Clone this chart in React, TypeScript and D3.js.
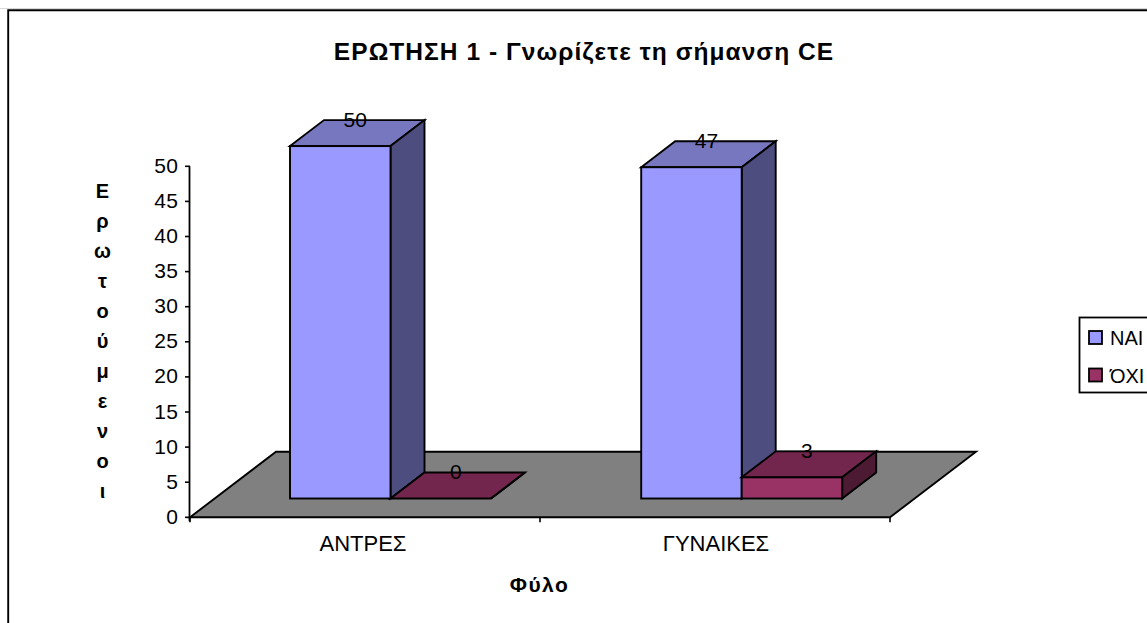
import * as d3 from "d3";

const categories = ["ΑΝΤΡΕΣ", "ΓΥΝΑΙΚΕΣ"];
const seriesNames = ["ΝΑΙ", "ΌΧΙ"];
const naiValues = [50, 47];
const oxiValues = [0, 3];
const yTicks = [0, 5, 10, 15, 20, 25, 30, 35, 40, 45, 50];
const titleText = "ΕΡΩΤΗΣΗ 1 - Γνωρίζετε τη σήμανση CE";
const xTitle = "Φύλο";
const yTitleLetters = ["Ε", "ρ", "ω", "τ", "ο", "ύ", "μ", "ε", "ν", "ο", "ι"];

const W = 1147, H = 623;
const FONT = "'Liberation Sans', Arial, sans-serif";
const x0 = 190, x1 = 890, yBase = 517.3, yTop = 166.3;
const floorD = [86, -65.5];
const barOff = [25.5, -18.8];
const barD = [34, -26];
const groupNudge = [0, 1.2];
const catNudge = [-2, 1];

const colors = [
  { front: "#9999FF", top: "#7777BF", side: "#4D4D80" },
  { front: "#993366", top: "#73264D", side: "#4D1A33" },
];

const yAxis = d3.scaleLinear().domain([0, 50]).range([yBase, yTop]);
const xCat = d3.scaleBand().domain(categories).range([x0, x1]);
const xSer = d3.scaleBand().domain(seriesNames).range([0, 201]);
const heightOf = (v: number) => (yBase - yAxis(v)) * 1.004;

const pts = (a: number[][]) => a.map((p) => p.join(",")).join(" ");

const barLeft = (cat: string, ser: string, ci: number) =>
  xCat(cat)! + (xCat.bandwidth() - 201) / 2 + barOff[0] + xSer(ser)! + groupNudge[ci];

function Bar({ cat, ser, v, ci, si }: any) {
  const w = xSer.bandwidth();
  const left = barLeft(cat, ser, ci);
  const right = left + w;
  const bot = yBase + barOff[1];
  const top = bot - heightOf(v);
  const c = colors[si];
  const [dx, dy] = barD;
  return (
    <g stroke="#000" strokeWidth={1.9} strokeLinejoin="miter">
      <polygon fill={c.top} points={pts([[left, top], [right, top], [right + dx, top + dy], [left + dx, top + dy]])} />
      <polygon fill={c.side} points={pts([[right, top], [right + dx, top + dy], [right + dx, bot + dy], [right, bot]])} />
      <rect x={left} y={top} width={w} height={bot - top} fill={c.front} />
    </g>
  );
}

function Label({ cat, ser, v, ci }: any) {
  const w = xSer.bandwidth();
  const left = barLeft(cat, ser, ci);
  const top = yBase + barOff[1] - heightOf(v);
  return (
    <text x={left + w / 2 + 15} y={top + barD[1] + 6.5} textAnchor="middle" fontSize={21} fill="#000">
      {v}
    </text>
  );
}

export default function App() {
  const tickLen = 5;
  return (
    <svg
      width={W}
      height={H}
      viewBox={`0 0 ${W} ${H}`}
      style={{ position: "absolute", left: 0, top: 0, background: "#fff" }}
      fontFamily={FONT}
    >
      {/* chart frame */}
      <line x1={0} x2={W} y1={8.5} y2={8.5} stroke="#d8d8d8" strokeWidth={1} />
      <path d={`M8.2 ${H} V10.3 H${W}`} fill="none" stroke="#000" strokeWidth={1.9} />

      <text x={584} y={60} textAnchor="middle" fontSize={24.5} fontWeight="bold" letterSpacing={1.05}>{titleText}</text>

      {/* floor */}
      <polygon
        fill="#808080"
        stroke="#000"
        strokeWidth={1.9}
        points={pts([[x0, yBase], [x1, yBase], [x1 + floorD[0], yBase + floorD[1]], [x0 + floorD[0], yBase + floorD[1]]])}
      />

      {/* y axis */}
      <line x1={x0 - 0.5} x2={x0 - 0.5} y1={yTop} y2={yBase + 4} stroke="#000" strokeWidth={1.8} />
      {yTicks.map((t) => (
        <g key={t}>
          <line x1={x0 - tickLen} x2={x0} y1={yAxis(t)} y2={yAxis(t)} stroke="#000" strokeWidth={1.6} />
          <text x={178.5} y={yAxis(t) + 6.5} textAnchor="end" fontSize={21} letterSpacing={0.5}>{t}</text>
        </g>
      ))}

      {/* x axis */}
      {[x0, x0 + xCat.bandwidth(), x1].map((x) => (
        <line key={x} x1={x} x2={x} y1={yBase} y2={yBase + tickLen} stroke="#000" strokeWidth={1.6} />
      ))}
      {categories.map((c, i) => (
        <text key={c} x={xCat(c)! + xCat.bandwidth() / 2 + catNudge[i]} y={550.5} textAnchor="middle" fontSize={22}>{c}</text>
      ))}
      <text x={539.5} y={591.5} textAnchor="middle" fontSize={21} fontWeight="bold" letterSpacing={1.5}>{xTitle}</text>

      {/* y title */}
      {yTitleLetters.map((l, i) => (
        <text key={i} x={102.5} y={198 + i * 30} textAnchor="middle" fontSize={20} fontWeight="bold">{l}</text>
      ))}

      {/* bars: the ΌΧΙ box sits in front of the ΝΑΙ side face */}
      {categories.map((c, ci) => (
        <g key={c}>
          <Bar cat={c} ser={seriesNames[0]} v={naiValues[ci]} ci={ci} si={0} />
          <Bar cat={c} ser={seriesNames[1]} v={oxiValues[ci]} ci={ci} si={1} />
        </g>
      ))}
      {categories.map((c, ci) => (
        <g key={c}>
          <Label cat={c} ser={seriesNames[0]} v={naiValues[ci]} ci={ci} />
          <Label cat={c} ser={seriesNames[1]} v={oxiValues[ci]} ci={ci} />
        </g>
      ))}

      {/* legend */}
      <rect x={1079.5} y={317.5} width={80} height={75} fill="#fff" stroke="#000" strokeWidth={1.8} />
      {seriesNames.map((s, i) => (
        <g key={s}>
          <rect x={1089} y={331 + i * 37.5} width={13} height={13} fill={colors[i].front} stroke="#000" strokeWidth={1.8} />
          <text x={1110} y={345 + i * 38} fontSize={20}>{s}</text>
        </g>
      ))}
    </svg>
  );
}
